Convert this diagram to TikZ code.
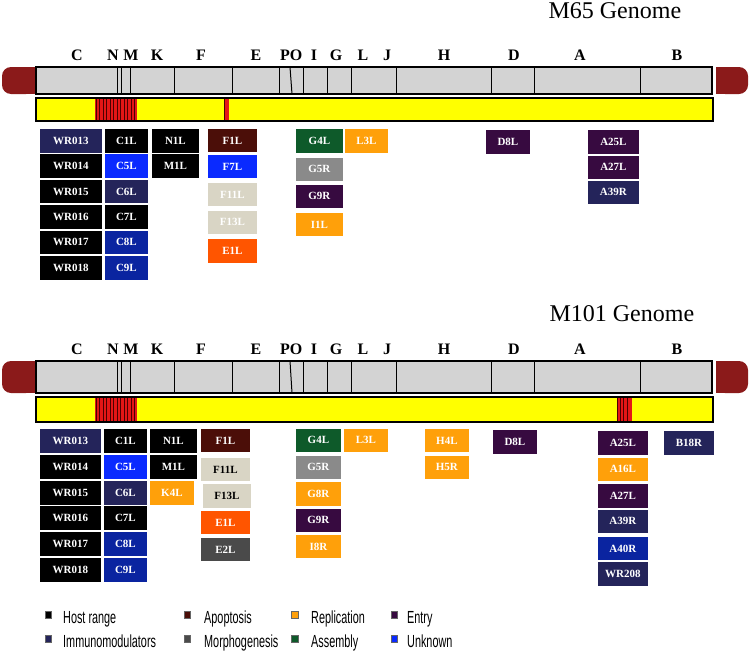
\documentclass[tikz,border=0pt]{standalone}
\usepackage{fontspec}
\setmainfont{Liberation Serif}
\newfontfamily\legfont[FakeStretch=0.62]{Liberation Sans}
\definecolor{immc}{HTML}{24245A}
\definecolor{apoc}{HTML}{4B0E08}
\definecolor{morphc}{HTML}{4A4A4A}
\definecolor{repc}{HTML}{FFA00A}
\definecolor{assc}{HTML}{0E5A2A}
\definecolor{entc}{HTML}{370A40}
\definecolor{unkc}{HTML}{0A2AFF}
\definecolor{dblue}{HTML}{0A24A0}
\definecolor{beige}{HTML}{D9D5C5}
\definecolor{ored}{HTML}{FF5500}
\definecolor{greyc}{HTML}{8A8A8A}
\definecolor{capred}{HTML}{8B1A1A}
\definecolor{stripe}{HTML}{E41616}
\definecolor{barg}{HTML}{D3D3D3}
\definecolor{bary}{HTML}{FFFF00}
\newcommand\gb[7]{\node[gbox, fill=#6, minimum width={(#4-#2)*1pt}, minimum height={(#5-#3)*1pt}] (#1) at (#2,#3) {#7};}
\newcommand\drawgenome[4]{%
  \fill[capred, rounded corners=9pt] (2,#1) rectangle (35,#2);
  \fill[capred] (20,#1) rectangle (35,#2);
  \fill[capred, rounded corners=9pt] (716,#1) rectangle (748,#2);
  \fill[capred] (716,#1) rectangle (730,#2);
  \draw[bar, fill=barg] (36,#1) rectangle (712,#2);
  \foreach \xx in {117,121,130,174,232,279,303,327,351,396,491,534,640}
    \draw[divl] (\xx,#1) -- (\xx,#2);
  \draw[divl] (290,#1) -- (292,#2);
  \draw[bar, fill=bary] (36,#3) rectangle (713,#4);
  \fill[stripe] (95,#3) rectangle (137,#4);
  \foreach \xx in {96,99.5,...,137} \draw[stripl] (\xx,#3) -- (\xx,#4);
  \draw[bar] (36,#3) rectangle (713,#4);
  \foreach \lt/\lx in {C/77,N/113,M/131,K/157,F/201,E/256,P/285,O/296,I/314,G/336,L/363,J/387,H/444,D/514,A/580,B/677}
    \node[glet] at (\lx,#1-7) {\lt};
}
\tikzset{
  gbox/.style={draw=white, line width=0.8pt, inner sep=0pt, anchor=north west, text=white, font=\bfseries\fontsize{11}{11}\selectfont},
  bar/.style={draw=black, line width=1.1pt},
  divl/.style={draw=black, line width=1pt},
  stripl/.style={draw=black!70!red, line width=0.6pt},
  glet/.style={anchor=base, font=\bfseries\fontsize{16}{16}\selectfont},
  gtitle/.style={anchor=base west, font=\fontsize{24}{24}\selectfont},
  legsq/.style={draw=black!60, line width=0.4pt, minimum width=6.5pt, minimum height=7.5pt, inner sep=0pt},
  legtx/.style={anchor=base west, inner sep=0pt, font=\legfont\fontsize{17.5}{17.5}\selectfont}
}
\begin{document}
\begin{tikzpicture}[x=1pt,y=-1pt]
\useasboundingbox (0,0) rectangle (750,653);
% ---------- M65 ----------
\node[gtitle] (t65) at (545,18.5) {M65 Genome};
\drawgenome{67}{94}{98}{121}
\fill[stripe] (224,98) rectangle (229,121);
\draw[stripl] (224,98) -- (224,121);
\draw[bar] (36,98) rectangle (713,121);
% boxes
\gb{a1}{39}{128}{102}{152.5}{immc}{WR013}
\gb{a2}{39}{153.4}{102}{177.9}{black}{WR014}
\gb{a3}{39}{178.8}{102}{203.3}{black}{WR015}
\gb{a4}{39}{204.2}{102}{228.7}{black}{WR016}
\gb{a5}{39}{229.6}{102}{254.1}{black}{WR017}
\gb{a6}{39}{255}{102}{279.5}{black}{WR018}
\gb{a7}{104}{128}{148}{152.5}{black}{C1L}
\gb{a8}{104}{153.4}{148}{177.9}{unkc}{C5L}
\gb{a9}{104}{178.8}{148}{203.3}{immc}{C6L}
\gb{a10}{104}{204.2}{148}{228.7}{black}{C7L}
\gb{a11}{104}{229.6}{148}{254.1}{dblue}{C8L}
\gb{a12}{104}{255}{148}{279.5}{dblue}{C9L}
\gb{a13}{151}{128}{199}{152.5}{black}{N1L}
\gb{a14}{151}{153.4}{199}{177.9}{black}{M1L}
\gb{a15}{207}{128}{257}{152}{apoc}{F1L}
\gb{a16}{207}{154}{257}{178}{unkc}{F7L}
\gb{a17}{207}{182}{257}{206}{beige}{F11L}
\gb{a18}{207}{210}{257}{234}{beige}{F13L}
\gb{a19}{207}{238}{257}{263}{ored}{E1L}
\gb{a20}{295}{128}{343}{153}{assc}{G4L}
\gb{a21}{295}{157}{343}{181}{greyc}{G5R}
\gb{a22}{295}{184}{343}{208}{entc}{G9R}
\gb{a23}{295}{212}{343}{236}{repc}{I1L}
\gb{a24}{344}{128}{388}{153}{repc}{L3L}
\gb{a25}{485}{129}{530}{154}{entc}{D8L}
\gb{a26}{587}{129}{639}{154}{entc}{A25L}
\gb{a27}{587}{154.5}{639}{179}{entc}{A27L}
\gb{a28}{587}{179.5}{639}{204}{immc}{A39R}
% ---------- M101 ----------
\node[gtitle] (t101) at (546,321) {M101 Genome};
\drawgenome{361}{393}{397}{422}
\fill[stripe] (617,397) rectangle (632,422);
\foreach \xx in {617,620,623.5,627} \draw[stripl] (\xx,397) -- (\xx,422);
\draw[bar] (36,397) rectangle (713,422);
\gb{b1}{39}{428}{101}{453}{immc}{WR013}
\gb{b2}{39}{453.8}{101}{478.8}{black}{WR014}
\gb{b3}{39}{479.6}{101}{504.6}{black}{WR015}
\gb{b4}{39}{505.4}{101}{530.4}{black}{WR016}
\gb{b5}{39}{531.2}{101}{556.2}{black}{WR017}
\gb{b6}{39}{557}{101}{582}{black}{WR018}
\gb{b7}{103}{428}{147}{453}{black}{C1L}
\gb{b8}{103}{453.8}{147}{478.8}{unkc}{C5L}
\gb{b9}{103}{479.6}{147}{504.6}{immc}{C6L}
\gb{b10}{103}{505.4}{147}{530.4}{black}{C7L}
\gb{b11}{103}{531.2}{147}{556.2}{dblue}{C8L}
\gb{b12}{103}{557}{147}{582}{dblue}{C9L}
\gb{b13}{149}{428}{197}{453}{black}{N1L}
\gb{b14}{149}{453.8}{197}{478.8}{black}{M1L}
\gb{b15}{149}{480}{194}{505}{repc}{K4L}
\gb{b16}{200}{428}{250}{452}{apoc}{F1L}
\node[gbox, fill=beige, text=black, minimum width=50pt, minimum height=24pt] (b17) at (200,457) {F11L};
\node[gbox, fill=beige, text=black, minimum width=49pt, minimum height=25pt] (b18) at (202,483) {F13L};
\gb{b19}{200}{510}{250}{534}{ored}{E1L}
\gb{b20}{200}{537}{250}{561}{morphc}{E2L}
\gb{b21}{295}{428}{341}{452}{assc}{G4L}
\gb{b22}{295}{455}{341}{479}{greyc}{G5R}
\gb{b23}{295}{481}{341}{506}{repc}{G8R}
\gb{b24}{295}{508}{341}{532}{entc}{G9R}
\gb{b25}{295}{534}{341}{558}{repc}{I8R}
\gb{b26}{343}{428}{388}{452}{repc}{L3L}
\gb{b27}{424}{428}{469}{452}{repc}{H4L}
\gb{b28}{424}{455}{469}{479}{repc}{H5R}
\gb{b29}{492}{429}{537}{454}{entc}{D8L}
\gb{b30}{597}{430}{648}{455}{entc}{A25L}
\gb{b31}{597}{457}{648}{481}{repc}{A16L}
\gb{b32}{597}{483}{648}{508}{entc}{A27L}
\gb{b33}{597}{509}{648}{533}{immc}{A39R}
\gb{b34}{597}{536}{648}{560}{dblue}{A40R}
\gb{b35}{597}{561}{648}{586}{immc}{WR208}
\gb{b36}{663}{430}{714}{455}{immc}{B18R}
% ---------- legend ----------
\foreach \nm/\sx/\tx/\yy/\col/\txt in {
  l1/48/63/617/black/Host range,
  l2/48/63/641/immc/Immunomodulators,
  l3/187/204/617/apoc/Apoptosis,
  l4/187/204/641/morphc/Morphogenesis,
  l5/294.5/311/617/repc/Replication,
  l6/294.5/311/641/assc/Assembly,
  l7/394/407/617/entc/Entry,
  l8/394/407/641/unkc/Unknown}{
  \node[legsq, fill=\col] (\nm s) at (\sx,\yy-2.5) {};
  \node[legtx] (\nm t) at (\tx,\yy+6) {\txt};
}
\end{tikzpicture}
\end{document}
